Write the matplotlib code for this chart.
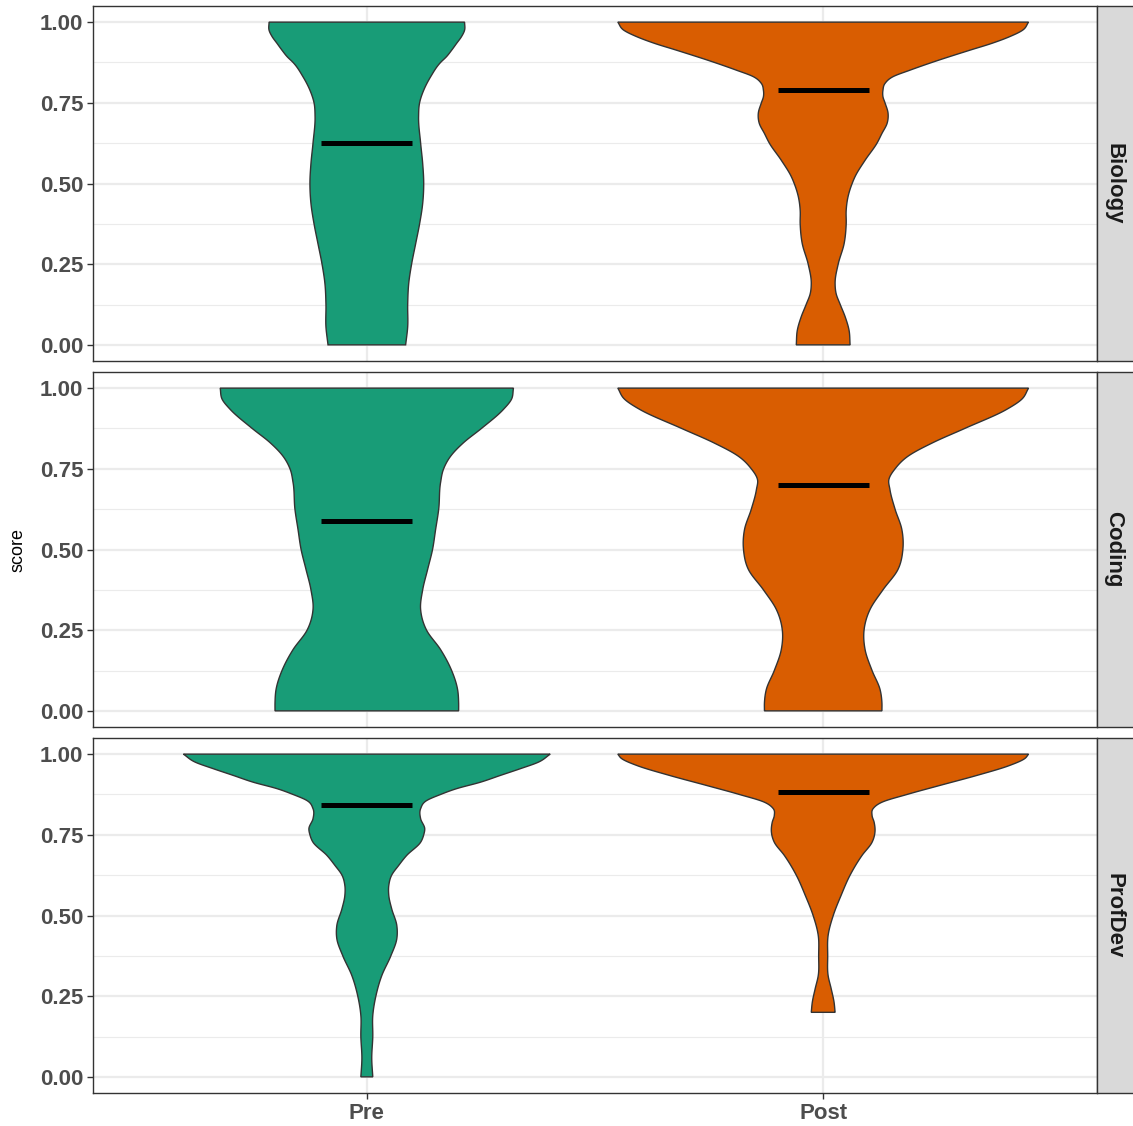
import numpy as np
import matplotlib
matplotlib.use("Agg")
import matplotlib.pyplot as plt
from matplotlib.patches import Rectangle

plt.rcParams["font.family"] = ["Liberation Sans", "DejaVu Sans"]

subjects = ["Biology", "Coding", "ProfDev"]
timepoints = ["Pre", "Post"]
fill_colors = ["#189C77", "#D95D01"]

# Violin density profiles: score level and relative width (1 = widest violin)
bio_pre_score = [1.000, 0.975, 0.955, 0.934, 0.913, 0.893, 0.875, 0.831, 0.789, 0.750, 0.707,
                 0.625, 0.562, 0.500, 0.438, 0.375, 0.314, 0.250, 0.190, 0.125, 0.056, 0.000]
bio_pre_width = [0.476, 0.476, 0.461, 0.437, 0.413, 0.388, 0.359, 0.311, 0.277, 0.257, 0.252,
                 0.262, 0.272, 0.277, 0.272, 0.257, 0.238, 0.218, 0.204, 0.199, 0.199, 0.189]

bio_post_score = [1.000, 0.975, 0.955, 0.934, 0.913, 0.875, 0.851, 0.831, 0.810, 0.789, 0.769,
                  0.750, 0.717, 0.686, 0.655, 0.625, 0.572, 0.521, 0.500, 0.459, 0.417, 0.375,
                  0.314, 0.250, 0.190, 0.159, 0.125, 0.087, 0.045, 0.000]
bio_post_width = [1.000, 0.971, 0.908, 0.820, 0.714, 0.529, 0.422, 0.340, 0.301, 0.291, 0.291,
                  0.301, 0.316, 0.311, 0.286, 0.262, 0.204, 0.155, 0.141, 0.121, 0.112, 0.112,
                  0.102, 0.073, 0.058, 0.063, 0.083, 0.107, 0.126, 0.131]

coding_pre_score = [1.000, 0.965, 0.934, 0.875, 0.831, 0.789, 0.750, 0.707, 0.625, 0.562,
                    0.500, 0.438, 0.375, 0.314, 0.250, 0.190, 0.125, 0.066, 0.025, 0.000]
coding_pre_width = [0.714, 0.704, 0.665, 0.558, 0.471, 0.408, 0.374, 0.359, 0.350, 0.335,
                    0.320, 0.296, 0.272, 0.262, 0.291, 0.359, 0.413, 0.442, 0.447, 0.447]

coding_post_score = [1.000, 0.965, 0.934, 0.875, 0.831, 0.789, 0.750, 0.717, 0.686, 0.625,
                     0.562, 0.500, 0.438, 0.375, 0.314, 0.250, 0.190, 0.125, 0.066, 0.025, 0.000]
coding_post_width = [1.000, 0.966, 0.893, 0.689, 0.534, 0.413, 0.350, 0.320, 0.325, 0.350,
                     0.383, 0.388, 0.364, 0.291, 0.228, 0.199, 0.204, 0.238, 0.277, 0.286, 0.286]

profdev_pre_score = [1.000, 0.975, 0.955, 0.934, 0.913, 0.893, 0.875, 0.856, 0.831, 0.800,
                     0.769, 0.750, 0.727, 0.686, 0.655, 0.625, 0.593, 0.562, 0.521, 0.469,
                     0.428, 0.375, 0.314, 0.250, 0.190, 0.125, 0.056, 0.000]
profdev_pre_width = [0.893, 0.835, 0.748, 0.650, 0.553, 0.437, 0.359, 0.291, 0.262, 0.262,
                     0.282, 0.277, 0.262, 0.194, 0.155, 0.121, 0.107, 0.107, 0.121, 0.146,
                     0.146, 0.117, 0.073, 0.044, 0.029, 0.029, 0.024, 0.029]

profdev_post_score = [1.000, 0.986, 0.965, 0.934, 0.903, 0.875, 0.851, 0.831, 0.810, 0.789,
                      0.758, 0.727, 0.686, 0.625, 0.562, 0.500, 0.438, 0.375, 0.314, 0.273,
                      0.231, 0.200]
profdev_post_width = [1.000, 0.981, 0.908, 0.748, 0.568, 0.408, 0.286, 0.243, 0.238, 0.248,
                      0.252, 0.238, 0.189, 0.131, 0.087, 0.049, 0.024, 0.022, 0.024, 0.039,
                      0.053, 0.058]

# Mean score per subject, [Pre, Post]
bio_means = [0.626, 0.790]
coding_means = [0.589, 0.699]
profdev_means = [0.841, 0.882]

y_ticks = [0.00, 0.25, 0.50, 0.75, 1.00]
y_tick_labels = ["0.00", "0.25", "0.50", "0.75", "1.00"]

profiles = [
    [(bio_pre_score, bio_pre_width), (bio_post_score, bio_post_width)],
    [(coding_pre_score, coding_pre_width), (coding_post_score, coding_post_width)],
    [(profdev_pre_score, profdev_pre_width), (profdev_post_score, profdev_post_width)],
]
means = [bio_means, coding_means, profdev_means]


def smooth_curve(x, y, xn):
    """Cubic Hermite curve through (x, y) with centred-difference slopes."""
    x = np.asarray(x, float)
    y = np.asarray(y, float)
    h = np.diff(x)
    d = np.diff(y) / h
    n = len(x)
    m = np.empty(n)
    m[1:-1] = (h[1:] * d[:-1] + h[:-1] * d[1:]) / (h[:-1] + h[1:])
    m[0] = d[0]
    m[-1] = d[-1]
    idx = np.clip(np.searchsorted(x, xn) - 1, 0, n - 2)
    t = (xn - x[idx]) / h[idx]
    h00 = 2 * t**3 - 3 * t**2 + 1
    h10 = t**3 - 2 * t**2 + t
    h01 = -2 * t**3 + 3 * t**2
    h11 = t**3 - t**2
    out = (h00 * y[idx] + h10 * h[idx] * m[idx]
           + h01 * y[idx + 1] + h11 * h[idx] * m[idx + 1])
    return np.clip(out, 0.005, None)


W, H = 1133, 1126
fig = plt.figure(figsize=(W / 100, H / 100), dpi=100)

panel_left, panel_right = 93, 1097
panel_tops = [6, 372, 738]
panel_h = 355
max_half = 0.45
mean_half = 0.10
grey20 = "#333333"
grid_col = "#EBEBEB"

for row, subject in enumerate(subjects):
    top = panel_tops[row]
    ax = fig.add_axes([panel_left / W, 1 - (top + panel_h) / H,
                       (panel_right - panel_left) / W, panel_h / H])
    ax.set_xlim(0.4, 2.6)
    ax.set_ylim(-0.05, 1.05)

    ax.set_yticks(y_ticks)
    ax.set_yticklabels(y_tick_labels)
    ax.set_yticks([0.125, 0.375, 0.625, 0.875], minor=True)
    ax.set_xticks([1, 2])
    ax.grid(True, which="major", color=grid_col, lw=1.6, zorder=0)
    ax.grid(True, which="minor", axis="y", color=grid_col, lw=0.8, zorder=0)
    ax.set_axisbelow(True)
    ax.tick_params(which="major", length=4, width=1.0, color=grey20, pad=3,
                   labelsize=16, labelcolor="#4D4D4D")
    ax.tick_params(which="minor", length=0)
    for lab in ax.get_yticklabels():
        lab.set_fontweight("bold")
    if row == len(subjects) - 1:
        ax.set_xticklabels(timepoints)
        for lab in ax.get_xticklabels():
            lab.set_fontweight("bold")
    else:
        ax.tick_params(axis="x", length=0, labelbottom=False)
    for sp in ax.spines.values():
        sp.set_color(grey20)
        sp.set_linewidth(1.0)

    for i in range(len(timepoints)):
        pos = i + 1
        score, width = profiles[row][i]
        s = np.asarray(score)[::-1]
        w = np.asarray(width)[::-1]
        ys = np.linspace(s.min(), s.max(), 500)
        half = smooth_curve(s, w, ys) * max_half
        ax.fill(np.concatenate([pos - half, (pos + half)[::-1]]),
                np.concatenate([ys, ys[::-1]]),
                facecolor=fill_colors[i], edgecolor=grey20, lw=1.0, zorder=2)
        ax.plot([pos - mean_half, pos + mean_half], [means[row][i]] * 2,
                color="black", lw=3.6, solid_capstyle="butt", zorder=3)

    # facet strip on the right
    sax = fig.add_axes([panel_right / W, 1 - (top + panel_h) / H,
                        (W - panel_right + 2) / W, panel_h / H])
    sax.set_xlim(0, 1)
    sax.set_ylim(0, 1)
    sax.axis("off")
    sax.add_patch(Rectangle((0, 0), 1, 1, facecolor="#D9D9D9", edgecolor=grey20,
                            lw=1.0, transform=sax.transAxes, clip_on=False))
    sax.text(0.45, 0.5, subject, rotation=270, ha="center", va="center",
             fontsize=16, fontweight="bold", color="#1A1A1A", transform=sax.transAxes)

fig.text(18 / W, 1 - 549.5 / H, "score", rotation=90, ha="center", va="center",
         fontsize=13, color="black")

fig.savefig("out.png", dpi=100)
